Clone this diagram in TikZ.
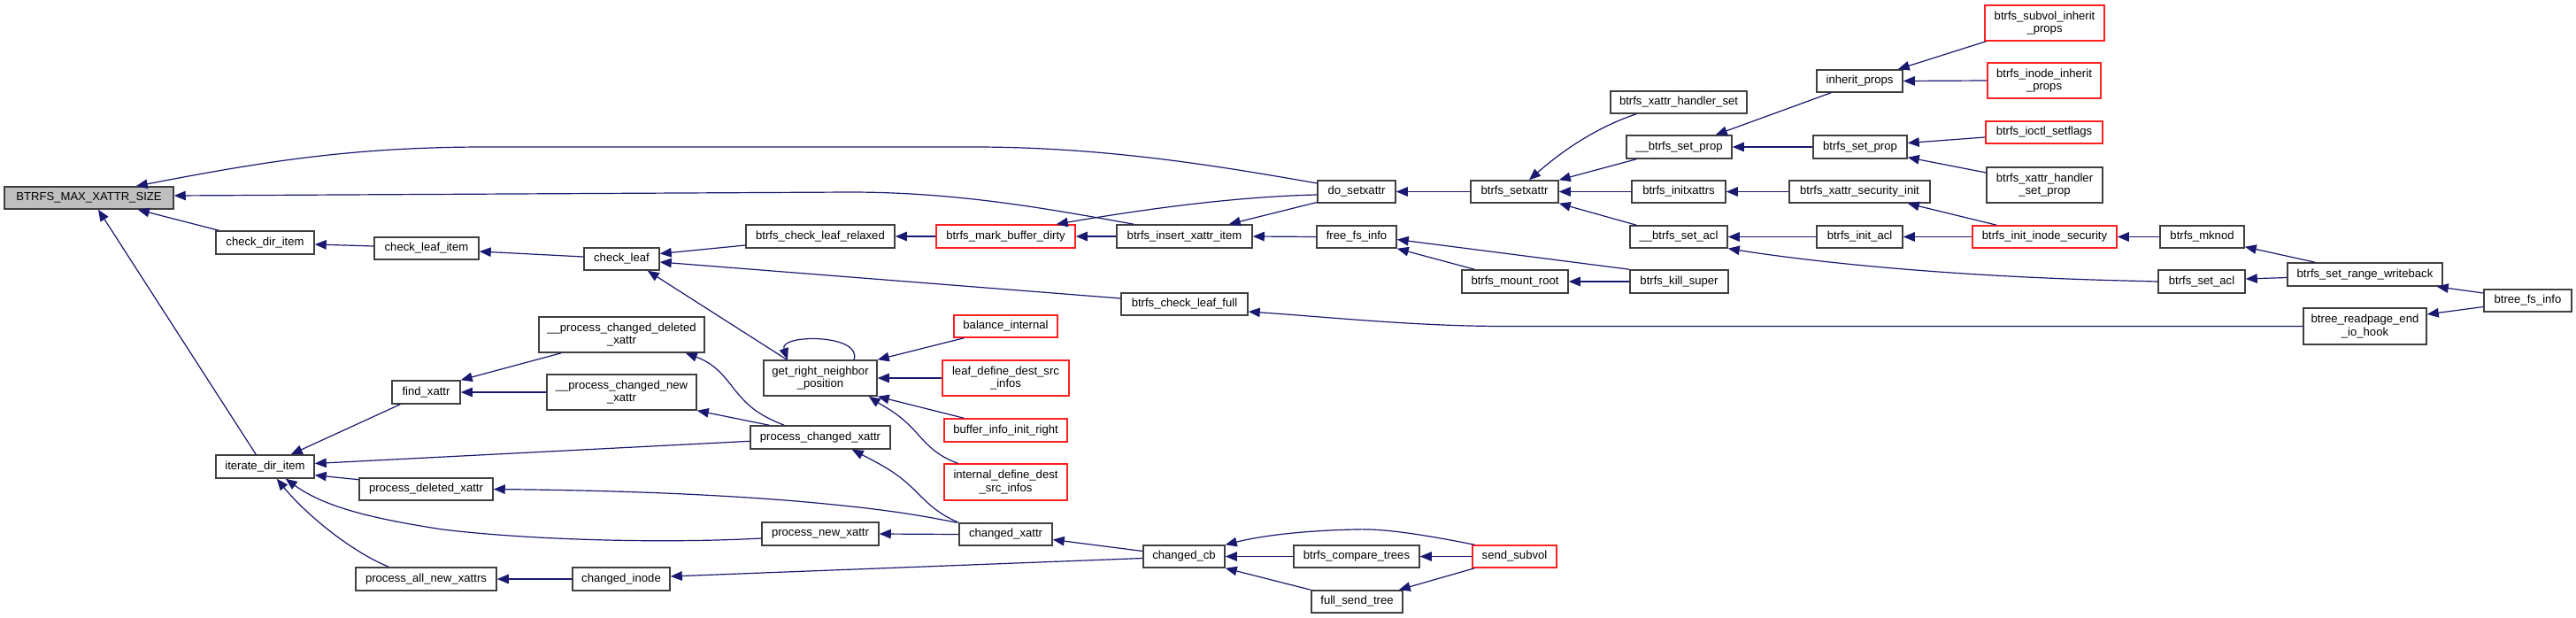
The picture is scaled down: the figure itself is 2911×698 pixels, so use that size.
\documentclass[tikz,border=0pt]{standalone}
\usepackage{fontspec}
\setmainfont{Liberation Sans}
\usetikzlibrary{arrows.meta}
\definecolor{edgec}{HTML}{191970}
\definecolor{nodeb}{HTML}{404040}
\definecolor{rootf}{HTML}{BFBFBF}
\definecolor{redb}{HTML}{FF2020}
\newcommand\fnt{\fontsize{13.1}{14.6}\selectfont}
\begin{document}
\begin{tikzpicture}[x=1pt,y=-1pt,
  fn/.style={draw=nodeb, line width=1.5pt, fill=white, inner sep=0pt, font=\fnt, align=center},
  rn/.style={fn, draw=redb},
  rootst/.style={fn, fill=rootf},
  ed/.style={draw=edgec, line width=1.2pt, -{Triangle[length=13pt,width=10.5pt]}}]
\useasboundingbox (0,0) rectangle (2911,698);
\fill[white] (0,0) rectangle (2911,698);
% nodes
\node[rootst, minimum width=191pt, minimum height=25pt] (root) at (100.5,223.5) {BTRFS\_MAX\_XATTR\_SIZE};
\node[fn, minimum width=111pt, minimum height=26pt] (cdi) at (299.5,274) {check\_dir\_item};
\node[fn, minimum width=118pt, minimum height=25pt] (cli) at (482,280.5) {check\_leaf\_item};
\node[fn, minimum width=85pt, minimum height=25pt] (cl) at (702.5,292.5) {check\_leaf};
\node[fn, minimum width=168pt, minimum height=26pt] (clr) at (927,267) {btrfs\_check\_leaf\_relaxed};
\node[rn, minimum width=157pt, minimum height=26pt] (mbd) at (1136.5,267) {btrfs\_mark\_buffer\_dirty};
\node[fn, minimum width=153pt, minimum height=26pt] (ixi) at (1338.5,267) {btrfs\_insert\_xattr\_item};
\node[fn, minimum width=143pt, minimum height=25pt] (clf) at (1338.5,343.5) {btrfs\_check\_leaf\_full};
\node[fn, minimum width=88pt, minimum height=25pt] (dsx) at (1533,216.5) {do\_setxattr};
\node[fn, minimum width=90pt, minimum height=25pt] (ffi) at (1533,267.5) {free\_fs\_info};
\node[fn, minimum width=99pt, minimum height=25pt] (bsx) at (1711.5,216.5) {btrfs\_setxattr};
\node[fn, minimum width=120pt, minimum height=26pt] (bmr) at (1712,318) {btrfs\_mount\_root};
\node[fn, minimum width=154pt, minimum height=25pt] (xhs) at (1897,115.5) {btrfs\_xattr\_handler\_set};
\node[fn, minimum width=119pt, minimum height=26pt] (ubsp) at (1897.5,166) {\_\_btrfs\_set\_prop};
\node[fn, minimum width=106pt, minimum height=25pt] (bix) at (1897,216.5) {btrfs\_initxattrs};
\node[fn, minimum width=110pt, minimum height=25pt] (ubsa) at (1897,267.5) {\_\_btrfs\_set\_acl};
\node[fn, minimum width=111pt, minimum height=26pt] (bks) at (1897.5,318) {btrfs\_kill\_super};
\node[fn, minimum width=97pt, minimum height=25pt] (ip) at (2101.5,91.5) {inherit\_props};
\node[fn, minimum width=106pt, minimum height=26pt] (bsp) at (2102,166) {btrfs\_set\_prop};
\node[fn, minimum width=159pt, minimum height=25pt] (xsi) at (2101.5,216.5) {btrfs\_xattr\_security\_init};
\node[fn, minimum width=97pt, minimum height=25pt] (bia) at (2101.5,267.5) {btrfs\_init\_acl};
\node[rn, minimum width=135pt, minimum height=40pt] (sip) at (2310.5,26) {btrfs\_subvol\_inherit\\\_props};
\node[rn, minimum width=128pt, minimum height=40pt] (iip) at (2310,91) {btrfs\_inode\_inherit\\\_props};
\node[rn, minimum width=132pt, minimum height=25pt] (isf) at (2310,149.5) {btrfs\_ioctl\_setflags};
\node[fn, minimum width=131pt, minimum height=40pt] (xhsp) at (2310.5,209) {btrfs\_xattr\_handler\\\_set\_prop};
\node[rn, minimum width=163pt, minimum height=25pt] (iis) at (2310.5,267.5) {btrfs\_init\_inode\_security};
\node[fn, minimum width=95pt, minimum height=25pt] (mkn) at (2488.5,267.5) {btrfs\_mknod};
\node[fn, minimum width=98pt, minimum height=26pt] (bsacl) at (2488,318) {btrfs\_set\_acl};
\node[fn, minimum width=175pt, minimum height=26pt] (srw) at (2672.5,310) {btrfs\_set\_range\_writeback};
\node[fn, minimum width=99pt, minimum height=25pt] (bfi) at (2856.5,339.5) {btree\_fs\_info};
\node[fn, minimum width=139pt, minimum height=41pt] (rph) at (2672.5,368.5) {btree\_readpage\_end\\\_io\_hook};
\node[fn, minimum width=111pt, minimum height=26pt] (idi) at (299.5,527) {iterate\_dir\_item};
\node[fn, minimum width=77pt, minimum height=26pt] (fx) at (481.5,443) {find\_xattr};
\node[fn, minimum width=151pt, minimum height=25pt] (pdx) at (481.5,552.5) {process\_deleted\_xattr};
\node[fn, minimum width=159pt, minimum height=26pt] (panx) at (481.5,654) {process\_all\_new\_xattrs};
\node[fn, minimum width=187pt, minimum height=40pt] (pcdx) at (702.5,378) {\_\_process\_changed\_deleted\\\_xattr};
\node[fn, minimum width=169pt, minimum height=40pt] (pcnx) at (702.5,443) {\_\_process\_changed\_new\\\_xattr};
\node[fn, minimum width=158pt, minimum height=26pt] (pcx) at (927,494) {process\_changed\_xattr};
\node[fn, minimum width=132pt, minimum height=26pt] (pnx) at (927,603) {process\_new\_xattr};
\node[fn, minimum width=110pt, minimum height=26pt] (ci) at (702,654) {changed\_inode};
\node[fn, minimum width=128pt, minimum height=40pt] (grn) at (927,427) {get\_right\_neighbor\\\_position};
\node[rn, minimum width=117pt, minimum height=25pt] (bi) at (1136.5,368.5) {balance\_internal};
\node[rn, minimum width=143pt, minimum height=40pt] (ldi) at (1136.5,427) {leaf\_define\_dest\_src\\\_infos};
\node[rn, minimum width=139pt, minimum height=26pt] (bir) at (1136.5,486) {buffer\_info\_init\_right};
\node[rn, minimum width=139pt, minimum height=41pt] (idd) at (1136.5,544.5) {internal\_define\_dest\\\_src\_infos};
\node[fn, minimum width=105pt, minimum height=25pt] (cx) at (1136.5,603.5) {changed\_xattr};
\node[fn, minimum width=92pt, minimum height=25pt] (ccb) at (1338,628.5) {changed\_cb};
\node[fn, minimum width=142pt, minimum height=25pt] (bct) at (1533,628.5) {btrfs\_compare\_trees};
\node[rn, minimum width=95pt, minimum height=25pt] (ss) at (1711.5,628.5) {send\_subvol};
\node[fn, minimum width=103pt, minimum height=25pt] (fst) at (1533.5,679.5) {full\_send\_tree};
% edges upper part
\draw[ed] ([yshift=9.5pt]dsx.west) .. controls (1380,188) and (1250,166) .. (1100,166) -- (550,166) .. controls (400,166) and (300,182) .. ([xshift=-43pt]root.north east);
\draw[ed] ([xshift=20pt]ixi.north west) .. controls (1180,235) and (1080,217) .. (960,217) -- ([yshift=2.5pt]root.east);
\draw[ed] ([yshift=-3.5pt]dsx.west) .. controls (1400,222) and (1300,235) .. ([xshift=-22pt]mbd.north east);
\draw[ed] ([yshift=-12pt]dsx.west) -- ([xshift=-27pt]ixi.north east);
\draw[ed] ([xshift=4pt]cdi.north west) -- ([xshift=-41pt]root.south east);
\draw[ed] ([xshift=46pt]idi.north west) -- ([xshift=10.5pt]root.south);
\draw[ed] ([yshift=2.5pt]cli.west) -- ([yshift=-2pt]cdi.east);
\draw[ed] ([yshift=2.5pt]cl.west) -- ([yshift=-3.5pt]cli.east);
\draw[ed] ([yshift=-10pt]clr.west) -- ([yshift=6pt]cl.east);
\draw[ed] ([yshift=6.5pt]clf.west) -- ([yshift=-3.5pt]cl.east);
\draw[ed] ([xshift=27pt]grn.north west) -- ([xshift=-14pt]cl.south east);
\draw[ed] (mbd.west) -- (clr.east);
\draw[ed] (ixi.west) -- (mbd.east);
\draw[ed] (ffi.west) -- (ixi.east);
\draw[ed] (rph.west) -- (1700,368.5) .. controls (1600,368.5) and (1500,358) .. ([yshift=-8.5pt]clf.east);
\draw[ed] (bsx.west) -- (dsx.east);
\draw[ed] (bks.north west) -- ([yshift=-3pt]ffi.east);
\draw[ed] ([xshift=15pt]bmr.north west) -- (ffi.south east);
\draw[ed] (bks.west) -- (bmr.east);
\draw[ed] ([xshift=30pt]xhs.south west) .. controls (1800,145) and (1760,175) .. ([xshift=16.5pt]bsx.north);
\draw[ed] ([xshift=12pt]ubsp.south west) -- (bsx.north east);
\draw[ed] (bix.west) -- (bsx.east);
\draw[ed] ([xshift=8pt]ubsa.north west) -- (bsx.south east);
\draw[ed] ([xshift=17pt]ip.south west) -- ([xshift=-19pt]ubsp.north east);
\draw[ed] (bsp.west) -- (ubsp.east);
\draw[ed] (xsi.west) -- (bix.east);
\draw[ed] (bia.west) -- (ubsa.east);
\draw[ed] (bsacl.west) -- (2400,317) .. controls (2200,312) and (2050,296) .. (ubsa.south east);
\draw[ed] ([xshift=2pt]sip.south west) -- ([xshift=-6pt]ip.north east);
\draw[ed] (iip.west) -- (ip.east);
\draw[ed] ([yshift=-5.5pt]isf.west) -- ([yshift=4.5pt]bsp.east);
\draw[ed] ([yshift=14pt]xhsp.west) -- ([yshift=2pt]bsp.south east);
\draw[ed] ([xshift=28pt]iis.north west) -- ([xshift=-26pt]xsi.south east);
\draw[ed] (iis.west) -- (bia.east);
\draw[ed] (mkn.west) -- (iis.east);
\draw[ed] ([xshift=32pt]srw.north west) -- ([yshift=2pt]mkn.south east);
\draw[ed] ([yshift=-3.5pt]srw.west) -- ([yshift=3pt]bsacl.east);
\draw[ed] ([yshift=8.5pt]bfi.west) -- ([xshift=-7pt]srw.south east);
\draw[ed] ([yshift=-7pt]bfi.west) -- ([yshift=13.5pt]rph.east);
% edges lower part
\draw[ed] ([xshift=10pt]fx.south west) -- ([xshift=-27pt]idi.north east);
\draw[ed] ([yshift=-4.3pt]pcx.west) -- ([yshift=3.5pt]idi.east);
\draw[ed] ([yshift=10.8pt]pdx.west) -- ([yshift=-9.7pt]idi.east);
\draw[ed] ([yshift=-5pt]pnx.west) .. controls (750,614) and (600,610) .. (500,598) .. controls (430,587) and (370,575) .. ([xshift=-33pt]idi.south east);
\draw[ed] ([xshift=38pt]panx.north west) .. controls (395,622) and (345,580) .. ([xshift=-43pt]idi.south east);
\draw[ed] ([xshift=26pt]pcdx.south west) -- (fx.north east);
\draw[ed] (pcnx.west) -- (fx.east);
\draw[ed] ([xshift=39pt]pcx.north west) .. controls (855,468) and (845,458) .. (830,440) .. controls (815,420) and (805,410) .. ([xshift=-22pt]pcdx.south east);
\draw[ed] ([xshift=22pt]pcx.north west) -- (pcnx.south east);
\draw[ed] (cx.north west) .. controls (1060,580) and (1050,570) .. (1035,555) .. controls (1015,535) and (1000,527) .. ([xshift=-44pt]pcx.south east);
\draw[ed] ([xshift=-2pt]cx.north west) .. controls (1030,580) and (990,574) .. (900,566) .. controls (800,558) and (700,554) .. (pdx.east);
\draw[ed] (cx.west) -- (pnx.east);
\draw[ed] ([yshift=6pt]ccb.west) -- ([yshift=-6pt]cx.east);
\draw[ed] (ci.west) -- (panx.east);
\draw[ed] ([yshift=-2pt]ccb.west) -- ([yshift=3pt]ci.east);
\draw[ed] (bct.west) -- (ccb.east);
\draw[ed] ([xshift=3pt]ss.north west) .. controls (1600,602) and (1560,597) .. (1533,598) .. controls (1480,599) and (1430,604) .. (ccb.north east);
\draw[ed] (fst.north west) -- (ccb.south east);
\draw[ed] (ss.west) -- (bct.east);
\draw[ed] ([xshift=3pt]ss.south west) -- ([xshift=-5pt]fst.north east);
\draw[ed] ([xshift=38pt]grn.north) .. controls (975,377) and (880,377) .. ([xshift=-37pt]grn.north);
\draw[ed] ([xshift=12pt]bi.south west) -- (grn.north east);
\draw[ed] (ldi.west) -- (grn.east);
\draw[ed] ([xshift=23pt]bir.north west) -- (grn.south east);
\draw[ed] ([xshift=16pt]idd.north west) .. controls (1060,515) and (1050,505) .. (1035,488) .. controls (1015,466) and (1000,460) .. ([xshift=-10pt]grn.south east);
\end{tikzpicture}
\end{document}
